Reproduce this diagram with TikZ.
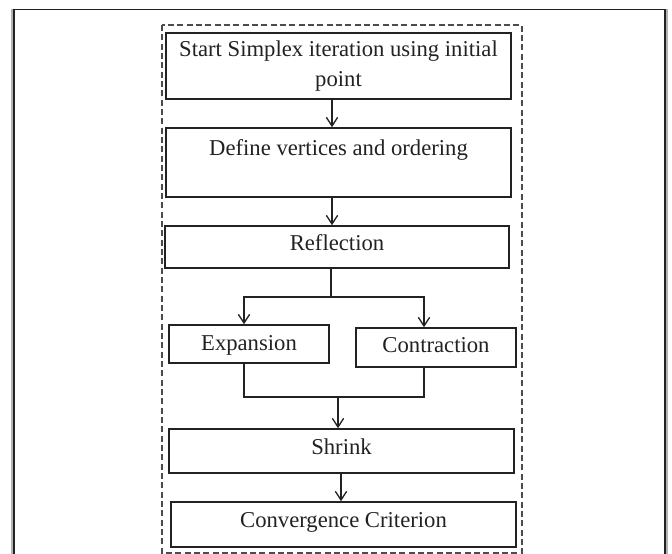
\documentclass[tikz,border=0pt]{standalone}
\usepackage{fontspec}
\setmainfont{Liberation Serif}
\usetikzlibrary{arrows.meta,calc}
\definecolor{ink}{HTML}{222222}
\begin{document}
\begin{tikzpicture}[x=0.75pt,y=-0.75pt,
  sz/.style 2 args={minimum width=#1*0.75pt, minimum height=#2*0.75pt},
  box/.style={draw=ink, line width=1.2pt, inner sep=0pt, text=ink,
    font=\fontsize{17}{23}\selectfont, align=center},
  one/.style={text height=11.6pt, text depth=#1},
  con/.style={draw=ink, line width=1pt},
  arr/.style={con, -{Straight Barb[length=6.5pt,width=8.5pt]}}]
\clip (0,0) rectangle (672,554);
\fill[white] (0,0) rectangle (672,554);
% outer frame
\draw[black!30, line width=1.6pt] (12.4,580) -- (12.4,8.5);
\draw[black!30, line width=1.6pt] (666.6,580) -- (666.6,8.5);
\draw[ink, line width=1.2pt] (14,580) |- (665,9.5) -- (665,580);
% dashed frame
\draw[black!70, line width=0.8pt, dash pattern=on 4.5pt off 2.5pt] (162,25) rectangle (522,553);
% boxes
\node[box, sz={345}{66}] (start) at (338.5,66) {Start Simplex iteration using initial\\point};
\node[box, sz={345}{69}] (define) at (338.5,162.5) {Define vertices and ordering\\\mbox{}};
\node[box, sz={344}{42}, one=7pt] (refl) at (337,247) {Reflection};
\node[box, sz={160}{38}, one=2.6pt] (exp) at (249,344) {Expansion};
\node[box, sz={160}{39}, one=3.4pt] (contr) at (436,347.5) {Contraction};
\node[box, sz={345}{44}, one=7pt] (shrink) at (341.5,451) {Shrink};
\node[box, sz={345}{45}, one=7.5pt] (conv) at (343.5,524.5) {Convergence Criterion};
% helper coordinates
\coordinate (xa) at (332,0);
\coordinate (xl) at (244,0);
\coordinate (xr) at (424,0);
\coordinate (xm) at (338,0);
\coordinate (xs) at (341,0);
\coordinate (split) at (331,297);
\coordinate (merge) at (338,397);
% connectors
\draw[arr] (start.south -| xa) -- (define.north -| xa);
\draw[arr] (define.south -| xa) -- (refl.north -| xa);
\draw[con] (refl.south -| split) -- (split);
\draw[arr] (split) -| (exp.north -| xl);
\draw[arr] (split) -| (contr.north -| xr);
\draw[con] (exp.south -| xl) |- (merge);
\draw[con] (contr.south -| xr) |- (merge);
\draw[arr] (merge) -- (shrink.north -| xm);
\draw[arr] (shrink.south -| xs) -- (conv.north -| xs);
\end{tikzpicture}
\end{document}
